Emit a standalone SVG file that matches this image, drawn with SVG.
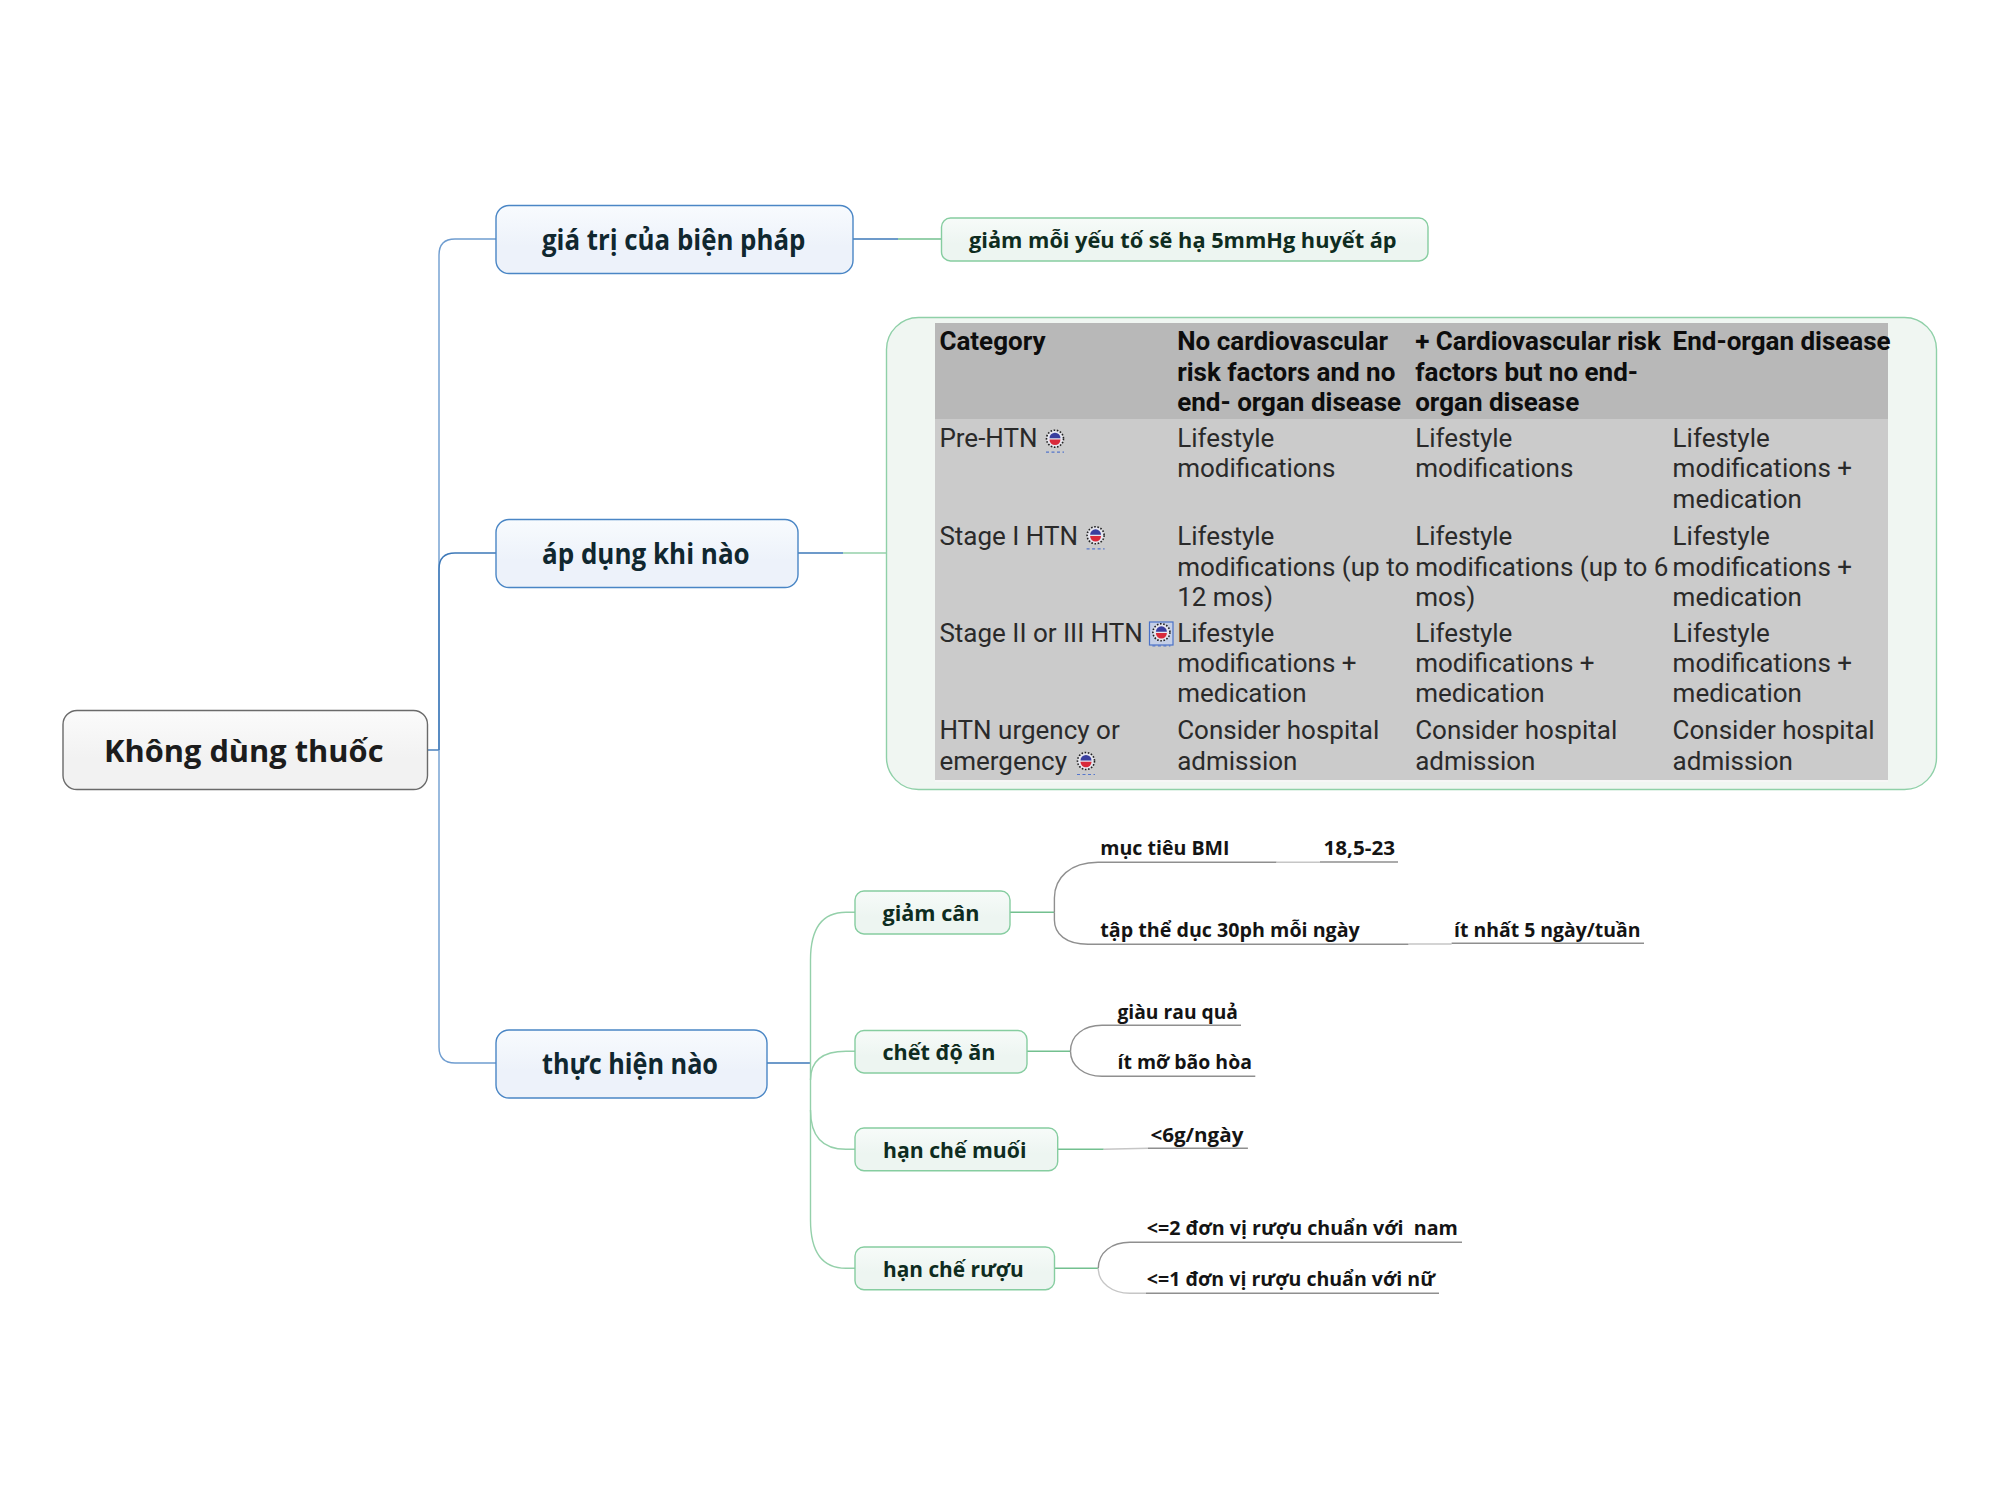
<svg xmlns="http://www.w3.org/2000/svg" width="2000" height="1500" viewBox="0 0 2000 1500">
<style>
text{font-family:"Open Sans","Noto Sans","DejaVu Sans",sans-serif;font-weight:700}
.root{font-size:31px;fill:#1c1c1c}
.main{font-size:28px;fill:#10272f}
.sub{font-size:22px;fill:#0e2c20}
.leaf{font-size:19px;fill:#141414}
.tb text{font-family:Roboto,"Liberation Sans",sans-serif;font-size:26px;font-weight:400;fill:#2a2a2a}
.tb .h{font-weight:700;fill:#0d0d0d}
.blue{fill:none;stroke:#3d78b8;stroke-width:1.4}
.bluelt{fill:none;stroke:#6f9dd0;stroke-width:1.4}
.green{fill:none;stroke:#73c08f;stroke-width:1.4}
.greenlt{fill:none;stroke:#94d0aa;stroke-width:1.4}
.gray{fill:none;stroke:#8f8f8f;stroke-width:1.4}
.graylt{fill:none;stroke:#c6c6c6;stroke-width:1.4}
.nb{fill:url(#gb);stroke:#4a86c5;stroke-width:1.4}
.ng{fill:url(#gg);stroke:#86cda0;stroke-width:1.4}
.nr{fill:url(#gr);stroke:#6a6a6a;stroke-width:1.4}
</style>
<defs>
<linearGradient id="gb" x1="0" y1="0" x2="0" y2="1"><stop offset="0" stop-color="#f8fbfe"/><stop offset="0.6" stop-color="#edf2fa"/></linearGradient>
<linearGradient id="gg" x1="0" y1="0" x2="0" y2="1"><stop offset="0" stop-color="#f7fbf9"/><stop offset="0.6" stop-color="#edf5f1"/></linearGradient>
<linearGradient id="gr" x1="0" y1="0" x2="0" y2="1"><stop offset="0" stop-color="#fbfbfb"/><stop offset="0.6" stop-color="#f2f2f2"/></linearGradient>
<g id="ic">
<circle r="8.5" fill="#e6e6ee" stroke="#222" stroke-width="1.6" stroke-dasharray="1.6 1.6"/>
<path d="M-5.5 -0.5A5.5 5.5 0 0 1 5.5 -0.5Z" fill="#3a3f9e"/><path d="M-5.5 0.8A5.5 5.5 0 0 0 5.5 0.8Z" fill="#d92a3a"/>
<path d="M-9 13.5H9" stroke="#5577cc" stroke-width="1.2" stroke-dasharray="3 2.5" fill="none"/>
</g>
</defs>
<g id="connectors">
<path class="blue" d="M427.5 750H439"/>
<path class="bluelt" d="M496 239H455Q439 239 439 255V750"/>
<path class="blue" d="M496 553H455Q439 553 439 569V750"/>
<path class="bluelt" d="M439 750V1047Q439 1063 455 1063H496"/>
<path class="blue" d="M853 239H898"/><path class="green" d="M898 239H941"/>
<path class="blue" d="M798 553H843"/><path class="greenlt" d="M843 553H886.5"/>
<path class="blue" d="M767 1063H810.5"/>
<path class="greenlt" d="M855 912.3H846Q810.5 912.3 810.5 960V1220Q810.5 1268.3 846 1268.3H855"/>
<path class="greenlt" d="M855 1051.3H846Q810.5 1051.3 810.5 1080"/>
<path class="greenlt" d="M855 1149.3H846Q810.5 1149.3 810.5 1110"/>
<path class="green" d="M1010 912.3H1054.4"/>
<path class="green" d="M1027 1051.3H1070.5"/>
<path class="green" d="M1057.7 1149.3H1103.7"/>
<path class="green" d="M1054.5 1268.3H1098.3"/>
<path class="gray" d="M1054.4 912.3V898C1054.4 878 1070 862.3 1098 862.3H1276.6"/>
<path class="graylt" d="M1276.6 862.3H1320"/>
<path class="gray" d="M1054.4 912.3V920C1054.4 934 1066 944.3 1088 944.3H1408.6"/>
<path class="graylt" d="M1408.6 944H1451.6"/>
<path class="gray" d="M1070.5 1051.3C1070.5 1035 1084 1025.3 1102 1025.3H1116"/>
<path class="gray" d="M1070.5 1051.3C1070.5 1066 1084 1076.3 1102 1076.3H1116"/>
<path class="graylt" d="M1103.7 1149.3L1148 1148.3"/>
<path class="gray" d="M1098.3 1268.3C1098.3 1252 1112 1242.3 1130 1242.3H1146"/>
<path class="graylt" d="M1098.3 1268.3C1098.3 1283 1112 1293.3 1130 1293.3H1146"/>
</g>
<g id="root"><rect class="nr" x="63" y="710.5" width="364.5" height="79" rx="14"/><text class="root" x="104" y="761.7" textLength="279.5" lengthAdjust="spacingAndGlyphs">Không dùng thuốc</text></g>
<g id="n-gia-tri"><rect class="nb" x="496" y="205.5" width="357" height="68" rx="13"/><text class="main" x="542" y="249.7" textLength="263.4" lengthAdjust="spacingAndGlyphs">giá trị của biện pháp</text></g>
<g id="n-ap-dung"><rect class="nb" x="496" y="519.5" width="302" height="68" rx="13"/><text class="main" x="542" y="563.5" textLength="207.7" lengthAdjust="spacingAndGlyphs">áp dụng khi nào</text></g>
<g id="n-thuc-hien"><rect class="nb" x="496" y="1030" width="271" height="68" rx="13"/><text class="main" x="542" y="1074" textLength="176" lengthAdjust="spacingAndGlyphs">thực hiện nào</text></g>
<g id="n-giam-moi"><rect class="ng" x="941.5" y="218" width="486.5" height="43" rx="9"/><text class="sub" x="969" y="248.3" textLength="427.6" lengthAdjust="spacingAndGlyphs">giảm mỗi yếu tố sẽ hạ 5mmHg huyết áp</text></g>
<g id="n-bang" class="tb">
<rect x="886.5" y="317.5" width="1050" height="472" rx="32" fill="#f0f6f2" stroke="#8fd0a8" stroke-width="1.4"/>
<rect x="935" y="323" width="953" height="459" fill="#f6f6f6"/>
<rect x="935" y="419" width="953" height="361" fill="#cbcbcb"/>
<rect x="935" y="323" width="953" height="96" fill="#b8b8b8"/>
<text class="h" x="939.4" y="350.3">Category</text>
<text class="h" x="1177.2" y="350.3">No cardiovascular</text>
<text class="h" x="1177.2" y="380.8">risk factors and no</text>
<text class="h" x="1177.2" y="411.3">end- organ disease</text>
<text class="h" x="1415.2" y="350.3">+ Cardiovascular risk</text>
<text class="h" x="1415.2" y="380.8">factors but no end-</text>
<text class="h" x="1415.2" y="411.3">organ disease</text>
<text class="h" x="1672.6" y="350.3">End-organ disease</text>
<text x="939.4" y="446.7">Pre-HTN</text>
<text x="1177.2" y="446.7">Lifestyle</text><text x="1177.2" y="477">modifications</text>
<text x="1415.2" y="446.7">Lifestyle</text><text x="1415.2" y="477">modifications</text>
<text x="1672.6" y="446.7">Lifestyle</text><text x="1672.6" y="477">modifications +</text><text x="1672.6" y="508">medication</text>
<text x="939.4" y="545">Stage I HTN</text>
<text x="1177.2" y="545">Lifestyle</text><text x="1177.2" y="575.5">modifications (up to</text><text x="1177.2" y="606">12 mos)</text>
<text x="1415.2" y="545">Lifestyle</text><text x="1415.2" y="575.5">modifications (up to 6</text><text x="1415.2" y="606">mos)</text>
<text x="1672.6" y="545">Lifestyle</text><text x="1672.6" y="575.5">modifications +</text><text x="1672.6" y="606">medication</text>
<text x="939.4" y="641.5">Stage II or III HTN</text>
<text x="1177.2" y="641.5">Lifestyle</text><text x="1177.2" y="672">modifications +</text><text x="1177.2" y="702.3">medication</text>
<text x="1415.2" y="641.5">Lifestyle</text><text x="1415.2" y="672">modifications +</text><text x="1415.2" y="702.3">medication</text>
<text x="1672.6" y="641.5">Lifestyle</text><text x="1672.6" y="672">modifications +</text><text x="1672.6" y="702.3">medication</text>
<text x="939.4" y="739">HTN urgency or</text><text x="939.4" y="769.5">emergency</text>
<text x="1177.2" y="739">Consider hospital</text><text x="1177.2" y="769.5">admission</text>
<text x="1415.2" y="739">Consider hospital</text><text x="1415.2" y="769.5">admission</text>
<text x="1672.6" y="739">Consider hospital</text><text x="1672.6" y="769.5">admission</text>
<use href="#ic" x="1055" y="438.7"/>
<use href="#ic" x="1095.6" y="535.3"/>
<rect x="1149.5" y="622" width="23.5" height="23" fill="#c5cfe6" stroke="#4a72c8" stroke-width="1.2"/>
<use href="#ic" x="1161.4" y="632.3"/>
<use href="#ic" x="1086" y="761"/>
</g>
<g id="n-giam-can"><rect class="ng" x="855" y="891" width="155" height="43" rx="9"/><text class="sub" x="882.5" y="921" textLength="97" lengthAdjust="spacingAndGlyphs">giảm cân</text></g>
<g id="n-che-do-an"><rect class="ng" x="855" y="1030.5" width="172" height="42.5" rx="9"/><text class="sub" x="882.5" y="1060" textLength="113" lengthAdjust="spacingAndGlyphs">chết độ ăn</text></g>
<g id="n-han-che-muoi"><rect class="ng" x="855" y="1128" width="202.7" height="42.7" rx="9"/><text class="sub" x="883" y="1158.3" textLength="143.4" lengthAdjust="spacingAndGlyphs">hạn chế muối</text></g>
<g id="n-han-che-ruou"><rect class="ng" x="855" y="1247" width="199.5" height="42.7" rx="9"/><text class="sub" x="883" y="1276.7" textLength="140.7" lengthAdjust="spacingAndGlyphs">hạn chế rượu</text></g>
<g id="l-bmi"><text class="leaf" x="1100.3" y="855" textLength="129.2" lengthAdjust="spacingAndGlyphs">mục tiêu BMI</text></g>
<g id="l-bmi-v"><path class="gray" d="M1320 862H1398"/><text class="leaf" x="1323.5" y="854.8" textLength="71.5" lengthAdjust="spacingAndGlyphs">18,5-23</text></g>
<g id="l-tap"><text class="leaf" x="1100.3" y="936.7" textLength="259.5" lengthAdjust="spacingAndGlyphs">tập thể dục 30ph mỗi ngày</text></g>
<g id="l-tap-v"><path class="gray" d="M1451.6 943.3H1644"/><text class="leaf" x="1454" y="936.7" textLength="186.5" lengthAdjust="spacingAndGlyphs">ít nhất 5 ngày/tuần</text></g>
<g id="l-rau"><path class="gray" d="M1116 1025.3H1241"/><text class="leaf" x="1117.5" y="1018.6" textLength="120.5" lengthAdjust="spacingAndGlyphs">giàu rau quả</text></g>
<g id="l-mo"><path class="gray" d="M1116 1076.3H1255.3"/><text class="leaf" x="1117.5" y="1069.3" textLength="134.4" lengthAdjust="spacingAndGlyphs">ít mỡ bão hòa</text></g>
<g id="l-muoi"><path class="gray" d="M1148 1148.3H1247.9"/><text class="leaf" x="1150.4" y="1141.7" textLength="93" lengthAdjust="spacingAndGlyphs">&lt;6g/ngày</text></g>
<g id="l-nam"><path class="gray" d="M1146 1242.3H1462"/><text class="leaf" x="1146.8" y="1235.3" textLength="311" lengthAdjust="spacingAndGlyphs" xml:space="preserve">&lt;=2 đơn vị rượu chuẩn với  nam</text></g>
<g id="l-nu"><path class="gray" d="M1146 1293.3H1439"/><text class="leaf" x="1146.8" y="1286" textLength="288.2" lengthAdjust="spacingAndGlyphs">&lt;=1 đơn vị rượu chuẩn với nữ</text></g>
</svg>
